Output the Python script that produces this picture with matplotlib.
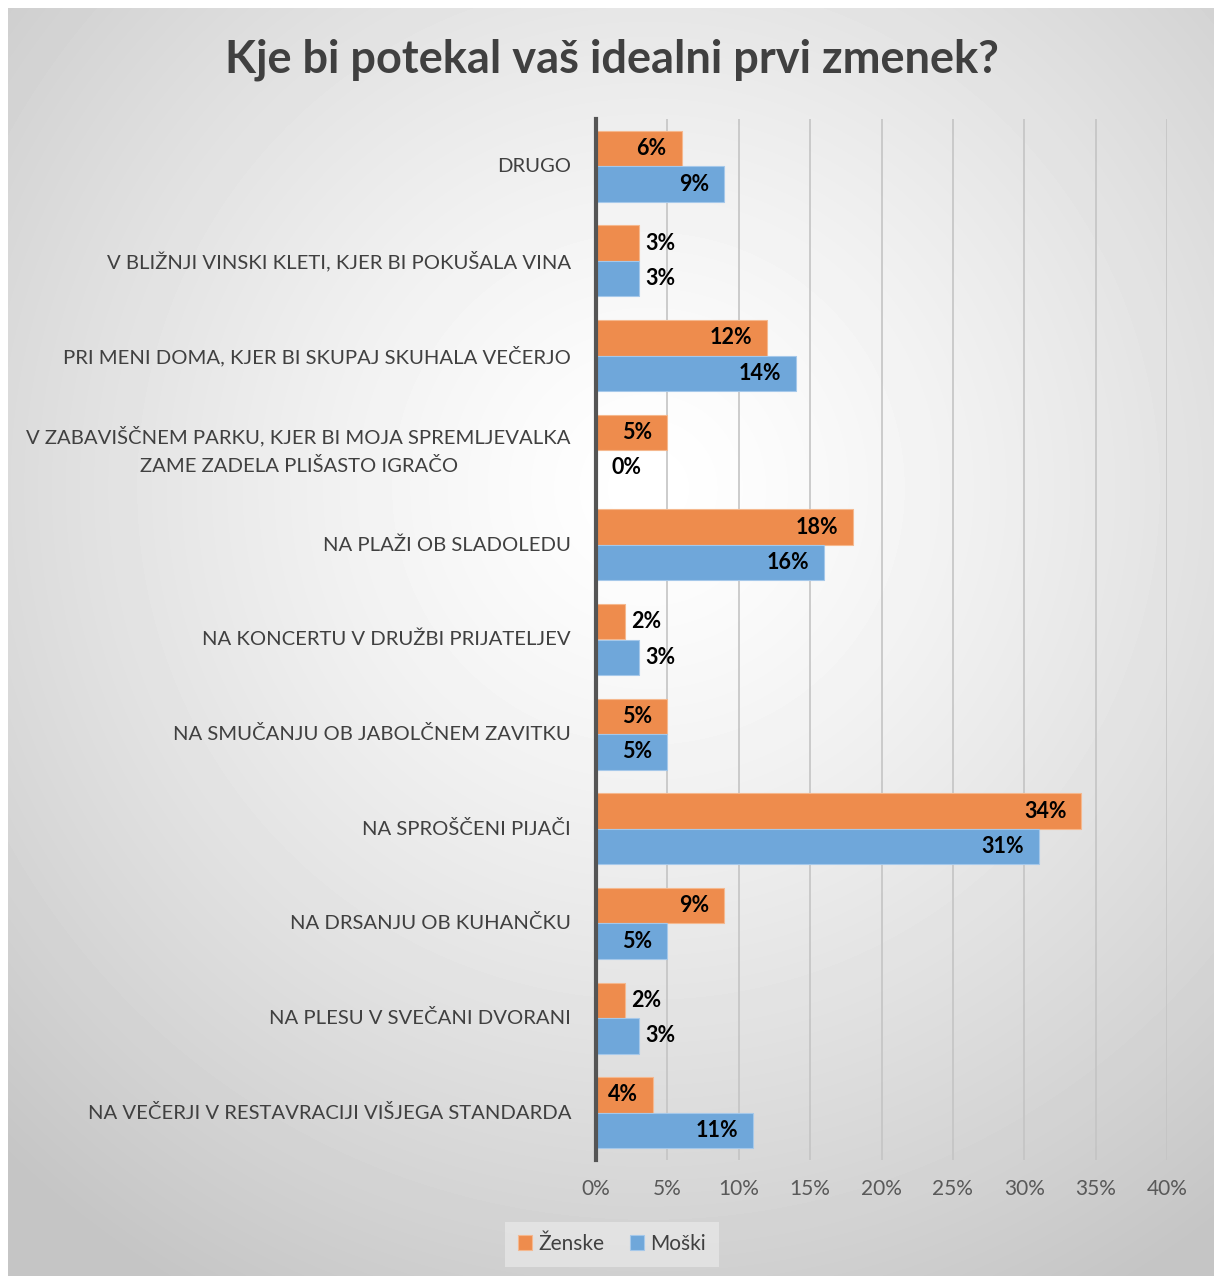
import matplotlib.pyplot as plt
import numpy as np

# Podatki
kategorije = [
    'DRUGO',
    'V BLIŽNJI VINSKI KLETI, KJER BI POKUŠALA VINA',
    'PRI MENI DOMA, KJER BI SKUPAJ SKUHALA VEČERJO',
    'V ZABAVIŠČNEM PARKU, KJER BI MOJA SPREMLJEVALKA\nZAME ZADELA PLIŠASTO IGRAČO',
    'NA PLAŽI OB SLADOLEDU',
    'NA KONCERTU V DRUŽBI PRIJATELJEV',
    'NA SMUČANJU OB JABOLČNEM ZAVITKU',
    'NA SPROŠČENI PIJAČI',
    'NA DRSANJU OB KUHANČKU',
    'NA PLESU V SVEČANI DVORANI',
    'NA VEČERJI V RESTAVRACIJI VIŠJEGA STANDARDA',
]
zenske = [6, 3, 12, 5, 18, 2, 5, 34, 9, 2, 4]
moski = [9, 3, 14, 0, 16, 3, 5, 31, 5, 3, 11]
x_ticks = [0, 5, 10, 15, 20, 25, 30, 35, 40]

plt.rcParams['font.family'] = ['Lato', 'DejaVu Sans']

W, H = 1214, 1276
fig = plt.figure(figsize=(W / 100, H / 100), dpi=100, facecolor='white')

# ozadje z radialnim prelivom
bg = fig.add_axes([8 / W, 0, (W - 8) / W, (H - 8) / H], zorder=-10)
yy, xx = np.mgrid[0:H - 8, 0:W - 8]
d = np.sqrt((xx - 640) ** 2 + (yy - 480) ** 2)
val = np.clip(1.0 - 0.22 * (d / 900) ** 1.3, 0.77, 1.0)
bg.imshow(val, cmap='gray', vmin=0, vmax=1, aspect='auto', interpolation='bilinear')
bg.axis('off')

ax = fig.add_axes([596 / W, 1 - 1160 / H, (1167 - 596) / W, (1160 - 119) / H])
ax.patch.set_alpha(0)

y = np.arange(len(kategorije))
h = 0.375
c_z = '#EE8C4D'
c_m = '#6FA7DA'
ax.barh(y - h / 2, zenske, height=h, color=c_z, edgecolor='#F5B88E', linewidth=0.8, zorder=3, label='Ženske')
ax.barh(y + h / 2, moski, height=h, color=c_m, edgecolor='#A5C8EA', linewidth=0.8, zorder=3, label='Moški')

# oznake vrednosti
for vals, off in [(zenske, -h / 2), (moski, h / 2)]:
    for i, v in enumerate(vals):
        if v >= 4:
            ax.annotate(f'{v}%', (v, i + off), xytext=(-15, 0), textcoords='offset pixels',
                        ha='right', va='center', fontsize=15.5, fontweight='bold', color='black', zorder=5)
        else:
            ax.annotate(f'{v}%', (v, i + off), xytext=(7 if v > 0 else 15, 0), textcoords='offset pixels',
                        ha='left', va='center', fontsize=15.5, fontweight='bold', color='black', zorder=5)

ax.set_ylim(len(kategorije) - 0.5, -0.5)
ax.set_xlim(0, 40)
ax.set_xticks(x_ticks)
ax.set_xticklabels([f'{t}%' for t in x_ticks], fontsize=15, color='#595959')
ax.set_yticks(y)
ax.set_yticklabels(kategorije, fontsize=14.6, color='#404040')
for t in ax.get_yticklabels():
    t.set_multialignment('center')
    t.set_linespacing(1.75)
    t.set_verticalalignment('center')
ax.tick_params(axis='y', length=0, pad=18)
ax.tick_params(axis='x', length=0, pad=14)
ax.grid(axis='x', color='#c4c4c4', linewidth=1.2, zorder=0)
for s in ['top', 'right', 'bottom']:
    ax.spines[s].set_visible(False)
ax.spines['left'].set_color('#555555')
ax.spines['left'].set_linewidth(3)
ax.spines['left'].set_zorder(4)

fig.text(612 / W, 1 - 60 / H, 'Kje bi potekal vaš idealni prvi zmenek?', ha='center', va='center',
         fontsize=32.5, fontweight='bold', color='#404040')

leg = fig.legend(loc='center', bbox_to_anchor=(612 / W, 1 - 1244 / H), ncol=2, fontsize=15,
                 frameon=True, fancybox=False, handlelength=0.7, handleheight=0.7,
                 handletextpad=0.3, columnspacing=1.2, borderpad=0.6)
leg.get_frame().set_facecolor('#e6e6e6')
leg.get_frame().set_edgecolor('none')
leg.get_frame().set_alpha(0.8)
for t in leg.get_texts():
    t.set_color('#404040')

plt.savefig('out.png', dpi=100)
